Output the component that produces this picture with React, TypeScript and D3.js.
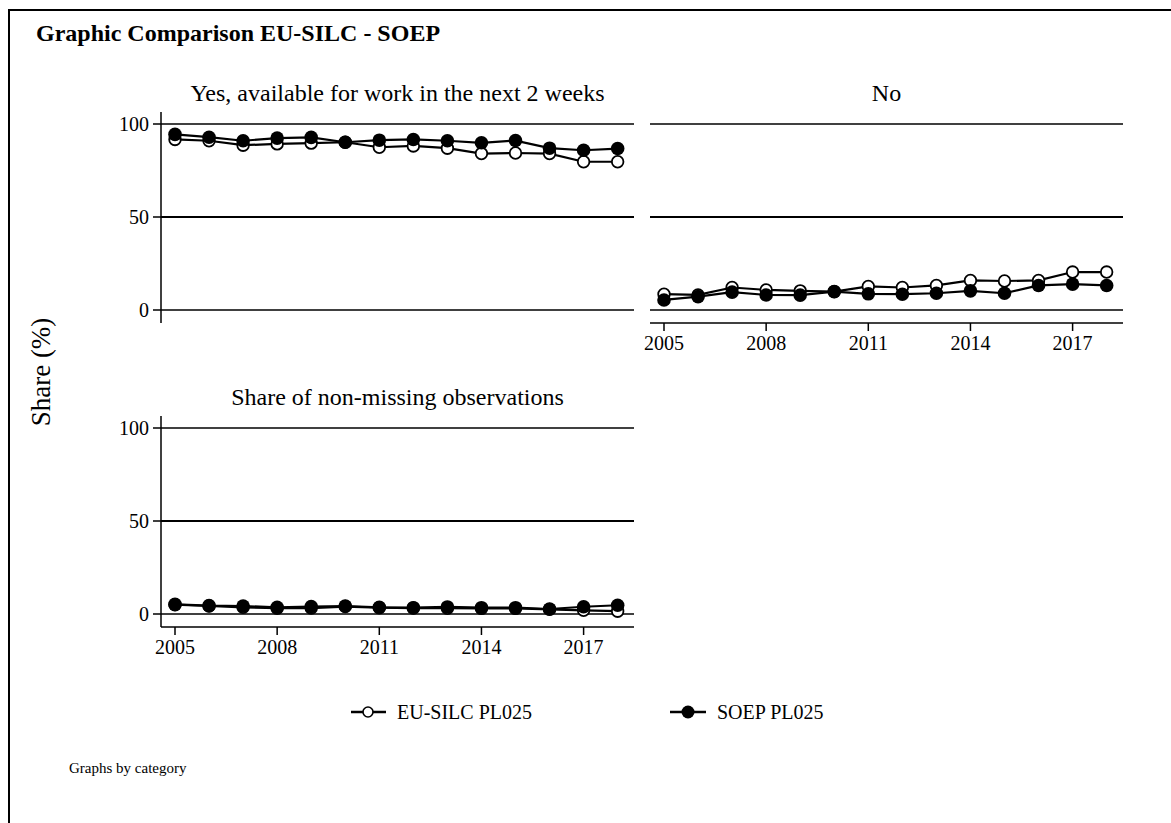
import React from "react";
import { scaleLinear, line } from "d3";

const years = [2005, 2006, 2007, 2008, 2009, 2010, 2011, 2012, 2013, 2014, 2015, 2016, 2017, 2018];
const xTicks = [2005, 2008, 2011, 2014, 2017];
const yTicks = [0, 50, 100];

const yesSilc = [91.7, 91.0, 88.6, 89.3, 89.7, 90.2, 87.5, 88.2, 87.0, 84.1, 84.4, 84.1, 79.7, 79.7];
const yesSoep = [94.4, 92.9, 91.0, 92.4, 92.8, 90.2, 91.3, 91.7, 91.0, 89.9, 91.1, 87.0, 85.9, 86.8];
const noSilc = [8.5, 8.1, 12.1, 10.8, 10.3, 9.9, 12.7, 12.1, 13.2, 15.9, 15.6, 15.9, 20.4, 20.4];
const noSoep = [5.4, 7.2, 9.6, 8.1, 8.0, 9.9, 8.7, 8.5, 9.0, 10.3, 9.0, 13.2, 13.9, 13.2];
const shareSilc = [5.0, 4.3, 3.6, 3.1, 3.2, 4.0, 3.4, 3.2, 3.1, 3.0, 3.0, 2.5, 2.0, 1.5];
const shareSoep = [5.2, 4.5, 4.3, 3.6, 4.0, 4.3, 3.6, 3.4, 3.8, 3.4, 3.4, 2.7, 3.9, 4.7];

const FONT = "'Liberation Serif', 'Times New Roman', serif";
const W = 473; // panel width
const H = 186; // 0..100 height

function Panel({ left, top, title, silc, soep, yAxis, xAxis }) {
  const x = scaleLinear().domain([2005, 2018]).range([left + 14, left + 14 + 13 * 34.05]);
  const y = scaleLinear().domain([0, 100]).range([top + H, top]);
  const path = line<number>().x((d, i) => x(years[i])).y((d) => y(d));
  const axisY = y(0) + 13;

  return (
    <g>
      <text x={left + W / 2} y={top - 23} textAnchor="middle" fontSize={24} fontFamily={FONT}>
        {title}
      </text>
      {yTicks.map((t) => (
        <line key={t} x1={left} x2={left + W} y1={y(t)} y2={y(t)} stroke="#000" strokeWidth={t === 50 ? 2 : 1.5} />
      ))}
      {yAxis && (
        <g>
          <line x1={left} x2={left} y1={top - 12} y2={axisY} stroke="#000" strokeWidth={1.5} />
          {yTicks.map((t) => (
            <g key={t}>
              <line x1={left - 8} x2={left} y1={y(t)} y2={y(t)} stroke="#000" strokeWidth={1.5} />
              <text x={left - 12} y={y(t) + 7} textAnchor="end" fontSize={20} fontFamily={FONT}>
                {t}
              </text>
            </g>
          ))}
        </g>
      )}
      {xAxis && (
        <g>
          <line x1={left} x2={left + W} y1={axisY} y2={axisY} stroke="#000" strokeWidth={1.5} />
          {xTicks.map((t) => (
            <g key={t}>
              <line x1={x(t)} x2={x(t)} y1={axisY} y2={axisY + 8} stroke="#000" strokeWidth={1.5} />
              <text x={x(t)} y={axisY + 27} textAnchor="middle" fontSize={20} fontFamily={FONT}>
                {t}
              </text>
            </g>
          ))}
        </g>
      )}
      <path d={path(silc) || ""} fill="none" stroke="#000" strokeWidth={2.2} />
      {silc.map((v, i) => (
        <circle key={"s" + i} cx={x(years[i])} cy={y(v)} r={5.8} fill="#fff" stroke="#000" strokeWidth={1.8} />
      ))}
      <path d={path(soep) || ""} fill="none" stroke="#000" strokeWidth={2.2} />
      {soep.map((v, i) => (
        <circle key={"p" + i} cx={x(years[i])} cy={y(v)} r={6.8} fill="#000" />
      ))}
    </g>
  );
}

export default function App() {
  return (
    <svg width={1171} height={823} style={{ position: "absolute", left: 0, top: 0, background: "#fff" }}>
      <rect x={9} y={10} width={1200} height={900} fill="#fff" stroke="#000" strokeWidth={2} />
      <text x={36} y={41} fontSize={24} fontWeight="bold" fontFamily={FONT}>
        Graphic Comparison EU-SILC - SOEP
      </text>
      <text
        transform="translate(50,372) rotate(-90)"
        textAnchor="middle"
        fontSize={27}
        fontFamily={FONT}
      >
        Share (%)
      </text>

      <Panel left={161} top={124} title="Yes, available for work in the next 2 weeks" silc={yesSilc} soep={yesSoep} yAxis xAxis={false} />
      <Panel left={650} top={124} title="No" silc={noSilc} soep={noSoep} yAxis={false} xAxis />
      <Panel left={161} top={428} title="Share of non-missing observations" silc={shareSilc} soep={shareSoep} yAxis xAxis />

      <g>
        <line x1={351} x2={386} y1={712} y2={712} stroke="#000" strokeWidth={2.5} />
        <circle cx={368} cy={712} r={5} fill="#fff" stroke="#000" strokeWidth={1.6} />
        <text x={397} y={719} fontSize={20} fontFamily={FONT}>EU-SILC PL025</text>
        <line x1={670} x2={706} y1={712} y2={712} stroke="#000" strokeWidth={2.5} />
        <circle cx={688} cy={712} r={6.5} fill="#000" />
        <text x={717} y={719} fontSize={20} fontFamily={FONT}>SOEP PL025</text>
      </g>

      <text x={69} y={773} fontSize={15} fontFamily={FONT}>
        Graphs by category
      </text>
    </svg>
  );
}
